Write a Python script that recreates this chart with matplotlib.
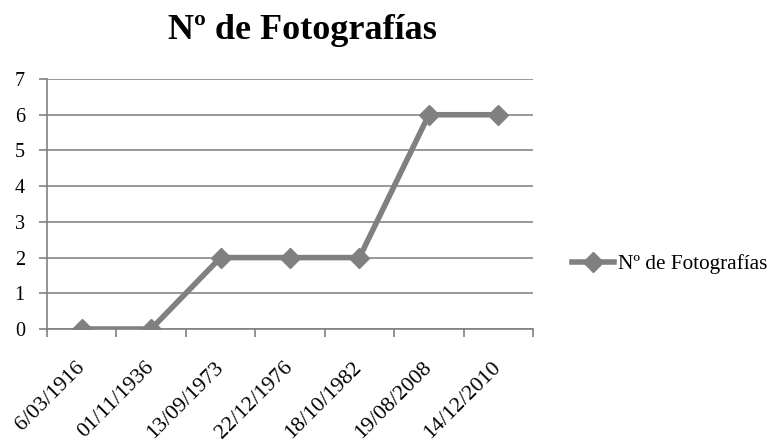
import matplotlib
matplotlib.use("Agg")
import matplotlib.pyplot as plt
import matplotlib.transforms as mtransforms

fechas = ["6/03/1916", "01/11/1936", "13/09/1973", "22/12/1976",
          "18/10/1982", "19/08/2008", "14/12/2010"]
fotos = [0, 0, 2, 2, 2, 6, 6]
serie = "Nº de Fotografías"

plt.rcParams["font.family"] = ["Liberation Serif", "DejaVu Serif"]

fig = plt.figure(figsize=(7.69, 4.44), dpi=100)
ax = fig.add_axes([0.0611, 0.259, 0.632, 0.563])

gris = "#808080"
x = range(len(fechas))
ax.plot(x, fotos, color=gris, lw=4, marker="D", ms=10.5, label=serie)

ax.set_xlim(-0.5, len(fechas) - 0.5)
ax.set_ylim(0, 7)
ax.set_yticks(range(0, 8))
ax.yaxis.grid(True, color="#868686", lw=1.2)
ax.set_axisbelow(True)

ax.set_xticks([i - 0.5 for i in range(len(fechas) + 1)])
ax.set_xticklabels([])
ax.set_xticks(list(x), minor=True)
ax.set_xticklabels(fechas, minor=True, rotation=45, ha="right",
                   rotation_mode="anchor", fontsize=15.8)
ax.tick_params(axis="x", which="minor", length=0, pad=21)
ax.tick_params(axis="x", which="major", length=6, color=gris, width=1.2)
ax.tick_params(axis="y", length=6, color=gris, width=1.2, labelsize=14.5, pad=10)

# nudge the rotated date labels a bit to the left
desplaza = mtransforms.ScaledTranslation(-5 / 72, 0, fig.dpi_scale_trans)
for lab in ax.get_xticklabels(minor=True):
    lab.set_transform(lab.get_transform() + desplaza)

for s in ["top", "right"]:
    ax.spines[s].set_visible(False)
for s in ["left", "bottom"]:
    ax.spines[s].set_color(gris)
    ax.spines[s].set_linewidth(1.2)

fig.text(0.393, 0.932, serie, ha="center", va="center",
         fontsize=26, fontweight="bold")

ax.legend(loc="center left", bbox_to_anchor=(1.04, 0.26), frameon=False,
          fontsize=15.3, handlelength=2.0, handletextpad=0.2)

fig.savefig("out.png", dpi=100)
